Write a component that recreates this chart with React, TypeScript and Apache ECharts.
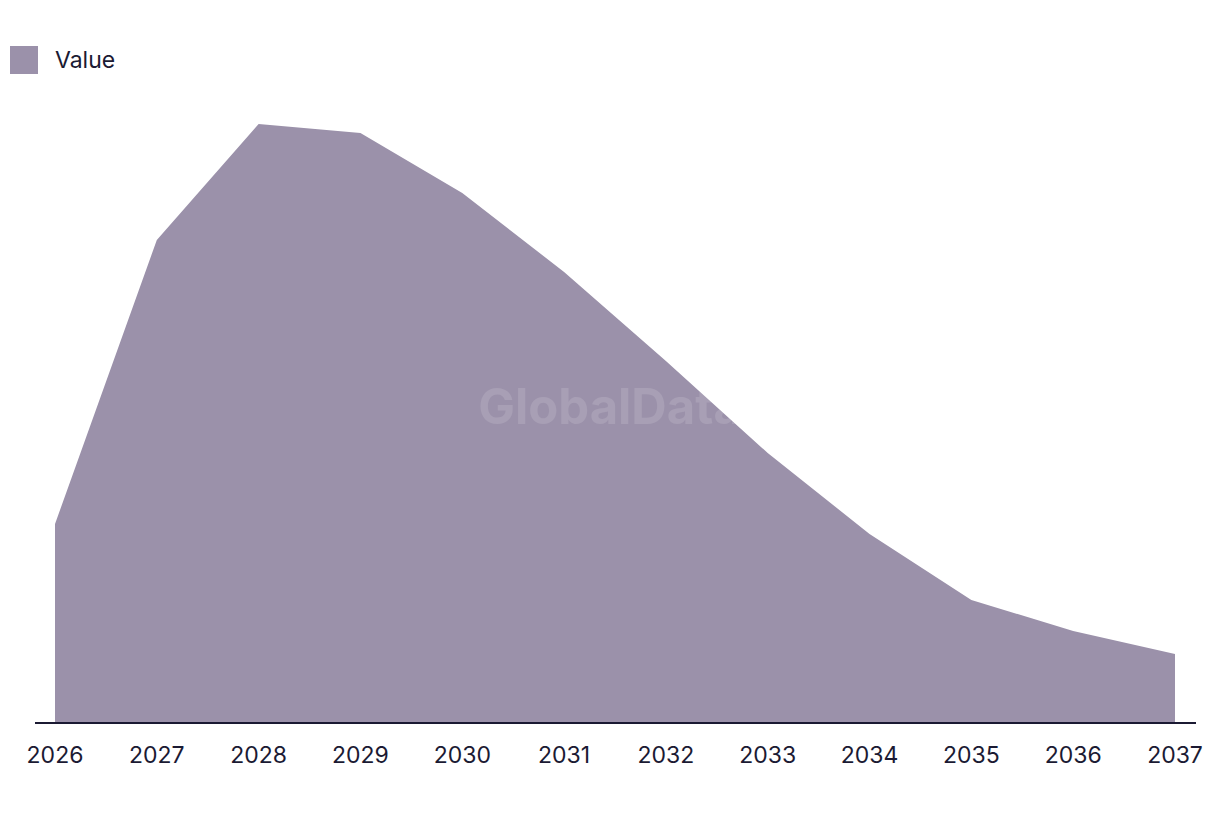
import React, { useEffect, useRef } from "react";
import * as echarts from "echarts";

const categories = ["2026", "2027", "2028", "2029", "2030", "2031", "2032", "2033", "2034", "2035", "2036", "2037"];
const values = [1.99, 4.83, 5.99, 5.9, 5.3, 4.51, 3.62, 2.7, 1.89, 1.23, 0.92, 0.69];
const seriesName = "Value";

const AREA = "#9b91aa";
const TEXT = "#1b1a33";
const FONT = "Inter, 'Noto Sans', sans-serif";

export default function App() {
  const ref = useRef<HTMLDivElement>(null);
  useEffect(() => {
    if (!ref.current) return;
    const chart = echarts.init(ref.current, undefined, { renderer: "svg" });
    chart.setOption({
      animation: false,
      legend: {
        show: true,
        left: 10,
        top: 46,
        padding: 0,
        itemWidth: 28,
        itemHeight: 28,
        itemGap: 17,
        icon: "rect",
        textStyle: { fontSize: 23, color: TEXT, fontFamily: FONT, padding: [0, 0, 3, 12] },
        data: [seriesName],
      },
      grid: { left: 55, right: 45, top: 123, bottom: 91, containLabel: false },
      xAxis: {
        type: "category",
        data: categories,
        boundaryGap: false,
        axisLine: { show: false },
        axisTick: { show: false },
        axisLabel: { fontSize: 23, color: TEXT, fontFamily: FONT, margin: 20 },
        splitLine: { show: false },
      },
      yAxis: {
        type: "value",
        min: 0,
        max: 6,
        show: false,
        splitLine: { show: false },
      },
      series: [
        {
          name: seriesName,
          type: "line",
          data: values,
          symbol: "none",
          lineStyle: { width: 0, color: AREA },
          itemStyle: { color: AREA },
          areaStyle: { color: AREA, opacity: 1 },
        },
      ],
      graphic: [
        {
          type: "line",
          shape: { x1: 35, y1: 723, x2: 1196, y2: 723 },
          style: { stroke: TEXT, lineWidth: 2 },
          z: 10,
        },
        {
          type: "text",
          left: "center",
          top: 382,
          style: {
            text: "GlobalData",
            fontSize: 49,
            fontWeight: "bold",
            fontFamily: FONT,
            fill: "rgba(255,255,255,0.13)",
          },
          z: 20,
        },
      ],
    });
    return () => chart.dispose();
  }, []);
  return <div ref={ref} style={{ width: 1220, height: 814, position: "absolute", left: 0, top: 0 }} />;
}
